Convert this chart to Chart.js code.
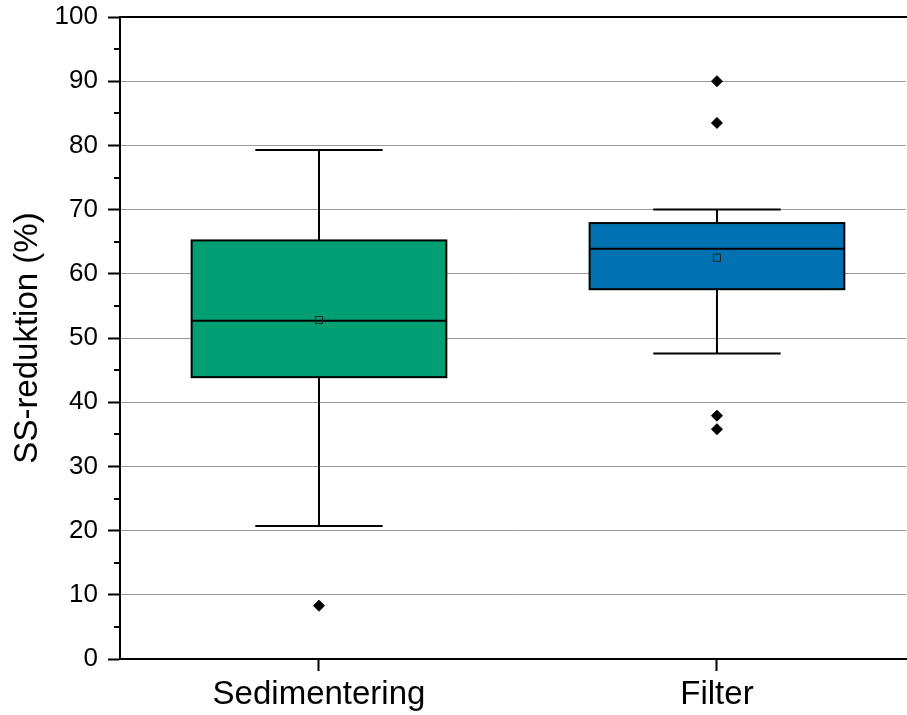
<!DOCTYPE html>
<html>
<head>
<meta charset="utf-8">
<script src="https://cdn.jsdelivr.net/npm/chart.js@4/dist/chart.umd.min.js"></script>
<style>
html,body{margin:0;padding:0;background:#fff;}
canvas{display:block;}
</style>
</head>
<body>
<canvas id="c" width="907" height="715"></canvas>
<script>
// ---- data ----
const categories = ['Sedimentering', 'Filter'];
const whiskerLow = [20.7, 47.6];
const q1 = [43.9, 57.6];
const median = [52.7, 63.9];
const q3 = [65.2, 67.9];
const whiskerHigh = [79.3, 70.0];
const means = [52.8, 62.5];
const outliers = [[8.3], [90.0, 83.5, 37.9, 35.8]];
const boxColors = ['#009E73', '#0072B2'];
const yTicksMajor = [0, 10, 20, 30, 40, 50, 60, 70, 80, 90, 100];
const yTicksMinor = [5, 15, 25, 35, 45, 55, 65, 75, 85, 95];

// ---- styling constants ----
const BOX_HALF = 0.32;
const CAP_HALF = 0.16;
const FONT = '"Liberation Sans", Arial, sans-serif';

Chart.defaults.font.family = FONT;
Chart.defaults.color = '#000';

const outlierPts = [];
outliers.forEach((arr, i) => arr.forEach(v => outlierPts.push({x: i + 1, y: v})));
const meanPts = means.map((v, i) => ({x: i + 1, y: v}));

const boxPlugin = {
  id: 'boxplot',
  beforeDatasetsDraw(chart) {
    const ctx = chart.ctx;
    const xs = chart.scales.x, ys = chart.scales.y;
    ctx.save();
    ctx.strokeStyle = '#000';
    ctx.lineWidth = 2;
    categories.forEach((c, i) => {
      const xc = xs.getPixelForValue(i + 1);
      const capL = xs.getPixelForValue(i + 1 - CAP_HALF);
      const capR = xs.getPixelForValue(i + 1 + CAP_HALF);
      const bL = xs.getPixelForValue(i + 1 - BOX_HALF);
      const bR = xs.getPixelForValue(i + 1 + BOX_HALF);
      const yWL = ys.getPixelForValue(whiskerLow[i]);
      const yWH = ys.getPixelForValue(whiskerHigh[i]);
      const yQ1 = ys.getPixelForValue(q1[i]);
      const yQ3 = ys.getPixelForValue(q3[i]);
      const yMed = ys.getPixelForValue(median[i]);
      // whiskers
      ctx.beginPath();
      ctx.moveTo(xc, yWH); ctx.lineTo(xc, yQ3);
      ctx.moveTo(xc, yQ1); ctx.lineTo(xc, yWL);
      ctx.moveTo(capL, yWH); ctx.lineTo(capR, yWH);
      ctx.moveTo(capL, yWL); ctx.lineTo(capR, yWL);
      ctx.stroke();
      // box
      ctx.fillStyle = boxColors[i];
      ctx.fillRect(bL, yQ3, bR - bL, yQ1 - yQ3);
      ctx.strokeRect(bL, yQ3, bR - bL, yQ1 - yQ3);
      // median
      ctx.beginPath();
      ctx.moveTo(bL, yMed); ctx.lineTo(bR, yMed);
      ctx.stroke();
    });
    ctx.restore();
  },
  afterDraw(chart) {
    const ctx = chart.ctx;
    const ys = chart.scales.y;
    const a = chart.chartArea;
    ctx.save();
    ctx.strokeStyle = '#000';
    ctx.lineWidth = 2;
    ctx.beginPath();
    yTicksMinor.forEach(v => {
      const y = Math.round(ys.getPixelForValue(v));
      ctx.moveTo(a.left - 6, y);
      ctx.lineTo(a.left, y);
    });
    // top frame line
    ctx.moveTo(a.left - 1, a.top);
    ctx.lineTo(chart.width, a.top);
    ctx.stroke();
    ctx.restore();
  }
};

function noPad(s) {
  s.paddingLeft = 0; s.paddingRight = 0; s.paddingTop = 0; s.paddingBottom = 0;
}

new Chart(document.getElementById('c'), {
  type: 'scatter',
  data: {
    datasets: [
      {
        label: 'Mean',
        data: meanPts,
        pointStyle: 'rect',
        pointRadius: 5,
        pointBorderWidth: 1,
        pointBackgroundColor: 'rgba(0,0,0,0)',
        pointBorderColor: '#222',
        order: 1
      },
      {
        label: 'Outliers',
        data: outlierPts,
        pointStyle: 'rectRot',
        pointRadius: 5.5,
        pointBorderWidth: 1,
        pointBackgroundColor: '#000',
        pointBorderColor: '#000',
        order: 2
      }
    ]
  },
  options: {
    responsive: false,
    animation: false,
    layout: {autoPadding: false, padding: {top: 17, right: 1, left: 0, bottom: 0}},
    plugins: {legend: {display: false}, tooltip: {enabled: false}},
    scales: {
      x: {
        type: 'linear',
        min: 0.5,
        max: 2.475,
        afterBuildTicks: s => { s.ticks = categories.map((c, i) => ({value: i + 1})); },
        afterFit: s => { s.height = 56; noPad(s); },
        ticks: {
          callback: v => categories[v - 1] || '',
          autoSkip: false,
          maxRotation: 0,
          font: {size: 33},
          color: '#000',
          padding: 4
        },
        grid: {drawOnChartArea: false, drawTicks: true, tickLength: 12, tickColor: '#000', tickWidth: 2},
        border: {display: true, color: '#000', width: 2}
      },
      y: {
        min: 0,
        max: 100,
        afterBuildTicks: s => { s.ticks = yTicksMajor.map(v => ({value: v})); },
        afterFit: s => { s.width = 120; noPad(s); },
        ticks: {font: {size: 26}, color: '#000', padding: 10},
        grid: {color: '#9a9a9a', lineWidth: 1, drawTicks: true, tickLength: 12, tickColor: '#000', tickWidth: 2},
        border: {display: true, color: '#000', width: 2},
        title: {display: true, text: 'SS-reduktion (%)', font: {size: 33}, color: '#000', padding: {top: 8, bottom: 0}}
      }
    }
  },
  plugins: [boxPlugin]
});
</script>
</body>
</html>
